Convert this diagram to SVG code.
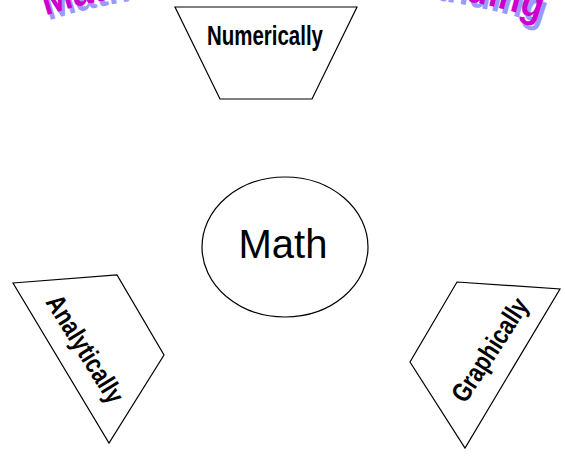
<svg xmlns="http://www.w3.org/2000/svg" width="565" height="456" viewBox="0 0 565 456">
<style>
.shape{fill:#fff;stroke:#000;stroke-width:1.2}
.lbl{font-family:"Liberation Sans",Arial,sans-serif;font-weight:bold;font-size:27px;fill:#000}
.wa{font-family:"Liberation Sans",Arial,sans-serif;font-weight:900;font-size:42px}
</style>
<defs>
<path id="arc" d="M 20,26 C 140,-30 430,-30 565,30"/>
</defs>
<rect width="565" height="456" fill="#fff"/>
<g id="title">
<text class="wa" fill="#9999ff" transform="translate(3,5)"><textPath href="#arc" startOffset="50%" text-anchor="middle" textLength="500" lengthAdjust="spacingAndGlyphs">Mathematical Understanding</textPath></text>
<text class="wa" fill="#cc00cc"><textPath href="#arc" startOffset="50%" text-anchor="middle" textLength="500" lengthAdjust="spacingAndGlyphs">Mathematical Understanding</textPath></text>
</g>
<g id="connectors"></g>
<g id="numerically">
<polygon class="shape" points="175,7 357,7 312,99 220,99"/>
<text class="lbl" x="265" y="45" text-anchor="middle" textLength="116" lengthAdjust="spacingAndGlyphs">Numerically</text>
</g>
<g id="math">
<ellipse class="shape" cx="285" cy="247" rx="83" ry="70"/>
<text x="283" y="258" text-anchor="middle" font-family="Liberation Sans, Arial, sans-serif" font-size="40">Math</text>
</g>
<g id="analytically">
<polygon class="shape" points="13,283 117,275 164,355 109,443"/>
<text class="lbl" transform="translate(85,349) rotate(58)" x="0" y="9" text-anchor="middle" textLength="122" lengthAdjust="spacingAndGlyphs">Analytically</text>
</g>
<g id="graphically">
<polygon class="shape" points="457,282 560,289 465,448 410,362"/>
<text class="lbl" transform="translate(490,350) rotate(-57)" x="0" y="9" text-anchor="middle" textLength="118" lengthAdjust="spacingAndGlyphs">Graphically</text>
</g>
</svg>
